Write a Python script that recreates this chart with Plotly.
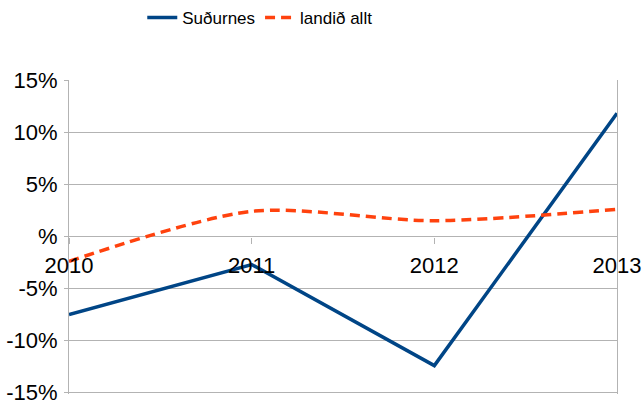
import plotly.graph_objects as go

years = [2010, 2011, 2012, 2013]
sudurnes = [-7.5, -2.7, -12.4, 11.8]
landid_allt = [-2.4, 2.4, 1.5, 2.6]

y_ticks = [-15, -10, -5, 0, 5, 10, 15]
y_tick_text = ["-15%", "-10%", "-5%", "%", "5%", "10%", "15%"]

FONT = "Liberation Sans, Arial, sans-serif"
GRID = "#b3b3b3"

fig = go.Figure()
fig.add_trace(go.Scatter(
    x=years, y=sudurnes, name="Suðurnes", mode="lines",
    line=dict(color="#004586", width=3.5),
))
fig.add_trace(go.Scatter(
    x=years, y=landid_allt, name="landið allt", mode="lines",
    line=dict(color="#ff420e", width=3.5, dash="10px,6px", shape="spline", smoothing=0.8),
))

fig.update_layout(
    width=643, height=403,
    margin=dict(l=69, r=26, t=80, b=9, autoexpand=False),
    paper_bgcolor="white", plot_bgcolor="white",
    font=dict(family=FONT, size=22, color="black"),
    hovermode=False,
    legend=dict(
        orientation="h", x=0.404, xref="container", xanchor="center",
        y=1.0, yref="container", yanchor="top",
        font=dict(size=17), itemwidth=30, tracegroupgap=0,
    ),
    xaxis=dict(
        range=[2010, 2013], tickvals=years, ticktext=[str(y) for y in years],
        anchor="free", position=0.5, showgrid=False, zeroline=False,
        showline=False, ticks="outside", ticklen=6, tickcolor=GRID,
        ticklabelstandoff=3, ticklabeloverflow="allow", automargin=False,
    ),
    yaxis=dict(
        range=[-15.12, 15.0], tickvals=y_ticks, ticktext=y_tick_text,
        showgrid=True, gridcolor=GRID, gridwidth=1, zeroline=False,
        showline=True, linecolor=GRID, linewidth=1, mirror=True,
        ticks="outside", ticklen=4, tickcolor=GRID, ticklabelstandoff=2,
        ticklabeloverflow="allow", automargin=False,
    ),
)

# drop the default 8px body margin so the figure sits at the window corner
fig.write_html(
    "out.html",
    config={"displayModeBar": False},
    post_script="document.body.style.margin='0';",
)
